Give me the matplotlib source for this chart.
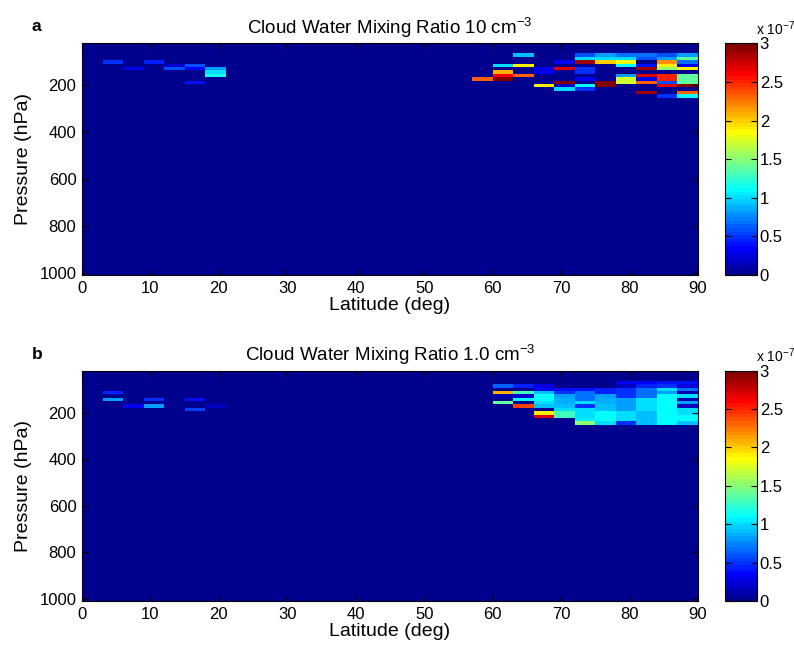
import numpy as np
import matplotlib
matplotlib.use("Agg")
import matplotlib.pyplot as plt
from matplotlib.colors import ListedColormap

plt.rcParams['font.family'] = ['Liberation Sans', 'DejaVu Sans']
plt.rcParams['mathtext.fontset'] = 'custom'
plt.rcParams['mathtext.rm'] = 'Liberation Sans'
plt.rcParams['mathtext.it'] = 'Liberation Sans'

# ---------------- data ----------------
titles = ["Cloud Water Mixing Ratio 10 cm$^{-3}$", "Cloud Water Mixing Ratio 1.0 cm$^{-3}$"]
panel_labels = ["a", "b"]
lat_edges = np.arange(0, 93, 3)                         # 3-degree latitude bins
p_edges = np.append(np.arange(20, 1000, 14.5), 1010)    # pressure level edges (hPa)
scale = 1e-7
cbar_ticks = [0, 0.5, 1, 1.5, 2, 2.5, 3]
lat_ticks = [0, 10, 20, 30, 40, 50, 60, 70, 80, 90]
p_ticks = [200, 400, 600, 800, 1000]

# panel a: non-zero cells (lat bin start, level index from top, value in 1e-7)
a_lat = [3, 6, 9, 12, 12, 15, 15, 15, 18, 18, 18,
         57,
         60, 60, 60, 60,
         63, 63, 63,
         66, 66, 66,
         69, 69, 69, 69, 69,
         72, 72, 72, 72, 72, 72, 72, 72,
         75, 75, 75, 75, 75,
         78, 78, 78, 78, 78, 78, 78,
         81, 81, 81, 81, 81, 81, 81, 81,
         84, 84, 84, 84, 84, 84, 84, 84, 84, 84,
         87, 87, 87, 87, 87, 87, 87, 87, 87, 87, 87]
a_lev = [5, 7, 5, 6, 7, 6, 7, 11, 7, 8, 9,
         10,
         6, 8, 9, 10,
         3, 6, 9,
         7, 8, 12,
         5, 7, 11, 12, 13,
         3, 4, 5, 7, 8, 10, 12, 13,
         3, 4, 5, 11, 12,
         3, 4, 5, 6, 9, 10, 11,
         3, 4, 6, 7, 9, 10, 11, 14,
         3, 4, 5, 6, 7, 9, 10, 11, 12, 15,
         3, 4, 5, 6, 7, 9, 10, 11, 12, 14, 15]
a_val = [0.5, 0.3, 0.45, 0.2, 0.6, 0.6, 0.35, 0.4, 0.8, 1.0, 1.15,
         2.3,
         1.0, 2.1, 2.6, 3.0,
         0.9, 1.9, 2.3,
         0.3, 0.3, 1.9,
         0.35, 2.7, 3.0, 0.15, 1.0,
         0.6, 1.0, 2.9, 0.5, 0.5, 0.3, 1.1, 0.5,
         0.8, 1.0, 2.0, 3.0, 3.0,
         0.7, 1.0, 1.8, 1.1, 0.8, 1.7, 1.7,
         0.7, 0.6, 0.4, 2.9, 2.7, 0.3, 2.3, 2.9,
         0.6, 0.8, 2.2, 1.9, 1.5, 2.5, 2.5, 0.6, 2.7, 0.5,
         0.8, 1.4, 0.7, 0.3, 1.9, 1.4, 1.4, 1.4, 3.0, 2.3, 1.1]

# panel b
b_lat = [3, 3, 6, 9, 9, 15, 15, 18,
         60, 60, 60, 60,
         63, 63, 63, 63, 63,
         66, 66, 66, 66, 66, 66, 66, 66, 66,
         69, 69, 69, 69, 69, 69, 69, 69, 69,
         72, 72, 72, 72, 72, 72, 72, 72, 72, 72, 72,
         75, 75, 75, 75, 75, 75, 75, 75, 75, 75, 75,
         78, 78, 78, 78, 78, 78, 78, 78, 78, 78, 78, 78, 78,
         81, 81, 81, 81, 81, 81, 81, 81, 81, 81, 81, 81, 81,
         84, 84, 84, 84, 84, 84, 84, 84, 84, 84, 84, 84, 84,
         87, 87, 87, 87, 87, 87, 87, 87, 87, 87, 87, 87, 87]
b_lev = [6, 8, 10, 8, 10, 8, 11, 10,
         4, 6, 7, 9,
         4, 6, 7, 8, 10,
         4, 5, 6, 7, 8, 9, 10, 12, 13,
         5, 6, 7, 8, 9, 10, 11, 12, 13,
         5, 6, 7, 8, 9, 10, 11, 12, 13, 14, 15,
         5, 6, 7, 8, 9, 10, 11, 12, 13, 14, 15,
         3, 4, 5, 6, 7, 8, 9, 10, 11, 12, 13, 14, 15,
         3, 4, 5, 6, 7, 8, 9, 10, 11, 12, 13, 14, 15,
         3, 4, 5, 6, 7, 8, 9, 10, 11, 12, 13, 14, 15,
         3, 4, 5, 6, 7, 8, 9, 10, 11, 12, 13, 14, 15]
b_val = [0.45, 0.8, 0.3, 0.5, 0.8, 0.4, 0.55, 0.15,
         0.65, 2.1, 0.1, 1.4,
         0.45, 1.3, 0.2, 1.1, 2.4,
         0.25, 0.35, 0.9, 1.1, 1.1, 1.0, 0.9, 1.9, 2.7,
         0.4, 0.5, 0.8, 0.85, 0.85, 0.9, 1.0, 1.3, 1.3,
         0.4, 0.7, 0.7, 0.7, 1.0, 0.5, 1.0, 1.0, 1.0, 1.05, 1.5,
         0.45, 0.45, 0.8, 0.85, 0.85, 0.9, 0.9, 1.1, 1.1, 1.1, 1.0,
         0.3, 0.15, 0.5, 0.5, 0.5, 0.8, 0.8, 0.8, 0.8, 1.0, 1.0, 1.0, 0.5,
         0.35, 0.45, 0.7, 0.7, 0.7, 1.0, 1.0, 1.0, 1.0, 0.9, 0.9, 0.9, 0.9,
         0.4, 0.5, 1.0, 0.8, 1.1, 1.1, 1.1, 1.1, 1.1, 1.1, 1.1, 1.1, 1.1,
         0.4, 0.25, 0.7, 0.1, 1.0, 0.1, 0.8, 0.15, 1.0, 1.0, 1.1, 1.1, 0.9]


def matlab_jet(m=64):
    n = int(np.ceil(m / 4))
    u = np.concatenate([np.arange(1, n + 1) / n, np.ones(n - 1), np.arange(n, 0, -1) / n])
    g = int(np.ceil(n / 2)) - (1 if m % 4 == 1 else 0) + np.arange(1, len(u) + 1)
    r = g + n
    b = g - n
    J = np.zeros((m, 3))
    for idx, col in ((r, 0), (g, 1), (b, 2)):
        ok = (idx >= 1) & (idx <= m)
        J[idx[ok] - 1, col] = u[ok]
    return ListedColormap(J)


def build_grid(lats, levs, vals):
    Z = np.zeros((len(p_edges) - 1, len(lat_edges) - 1))
    for la, lv, v in zip(lats, levs, vals):
        Z[lv, int(np.searchsorted(lat_edges, la))] = v * scale
    return Z


cmap = matlab_jet(64)
fig = plt.figure(figsize=(7.94, 6.5), dpi=100)
W, H = 794.0, 650.0

panels = [
    (build_grid(a_lat, a_lev, a_val), (82, 43.3, 698, 275)),
    (build_grid(b_lat, b_lev, b_val), (82, 370.7, 698, 601)),
]

for i, (Z, (x0, y0, x1, y1)) in enumerate(panels):
    ax = fig.add_axes([x0 / W, 1 - y1 / H, (x1 - x0) / W, (y1 - y0) / H])
    mesh = ax.pcolormesh(lat_edges, p_edges, Z, cmap=cmap, vmin=0, vmax=3e-7,
                         shading='flat', rasterized=True)
    ax.set_xlim(0, 90)
    ax.set_ylim(p_edges[-1], p_edges[0])
    ax.set_xticks(lat_ticks)
    ax.set_yticks(p_ticks)
    ax.tick_params(direction='in', top=True, right=True, length=4, width=0.8,
                   labelsize=12, pad=4)
    ax.set_xlabel('Latitude (deg)', fontsize=14, labelpad=1)
    ax.set_ylabel('Pressure (hPa)', fontsize=14, labelpad=5)
    ax.set_title(titles[i], fontsize=13.5, pad=7)
    for s in ax.spines.values():
        s.set_linewidth(0.8)
    fig.text(32 / W, 1 - (y0 - 16.5) / H, panel_labels[i], fontsize=12.5,
             fontweight='bold', ha='left', va='center')

    cax = fig.add_axes([725 / W, 1 - y1 / H, 32 / W, (y1 - y0) / H])
    cb = fig.colorbar(mesh, cax=cax)
    cb.set_ticks([t * scale for t in cbar_ticks])
    cb.set_ticklabels(['0', '0.5', '1', '1.5', '2', '2.5', '3'])
    cax.tick_params(direction='in', left=True, right=True, length=4, width=0.8,
                    labelsize=12, pad=2)
    cb.outline.set_linewidth(0.8)
    cax.text(0.98, 1.025, r'x 10$^{-7}$', transform=cax.transAxes,
             ha='left', va='bottom', fontsize=10)

fig.savefig('out.png', dpi=100)
